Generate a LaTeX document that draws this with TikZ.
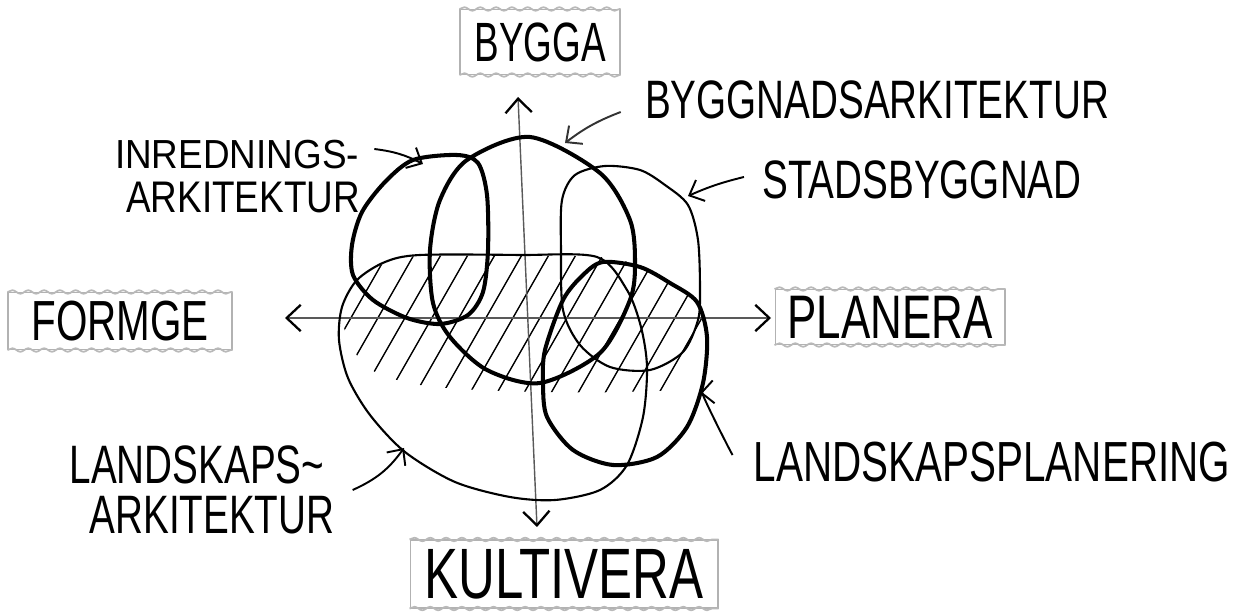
\documentclass[tikz,border=0pt]{standalone}
\usepackage{fontspec}
\usepackage{graphicx}
\setmainfont{Liberation Sans}
\usetikzlibrary{arrows.meta, decorations.pathmorphing}

\newcommand{\tall}[2][1.4]{\scalebox{1}[#1]{#2}}

\begin{document}
\begin{tikzpicture}[x=0.02cm, y=-0.02cm,
    ink/.style={line width=2.3pt, line join=round},
    thinink/.style={line width=1.2pt, line join=round},
    axis/.style={gray!70!black, line width=0.8pt,
        arrows={Straight Barb[length=8pt, width=15pt, line width=1.3pt, black]-Straight Barb[length=8pt, width=15pt, line width=1.3pt, black]}},
    hatch/.style={line width=0.8pt},
    pointer/.style={line width=1.1pt, -{Straight Barb[length=7pt, width=13pt]}},
    box/.style={draw=gray!60, line width=0.6pt, inner sep=0pt},
    wavy/.style={gray!55, line width=1pt, decorate, decoration={snake, amplitude=1pt, segment length=9pt}},
    note/.style={font=\fontsize{22}{24}\selectfont, inner sep=0pt}]
    \useasboundingbox (0,0) rectangle (1248,614);

    % Hatched band
    \begin{scope}
        \clip plot[smooth cycle] coordinates {(342,310) (355,283) (385,263) (420,256) (520,256) (600,257) (645,268) (690,297) (706,330) (700,365) (680,388) (620,392) (550,392) (480,390) (420,385) (375,372) (350,345)};
        \foreach \x in {250,277,...,750}
            \draw[hatch] (\x,400) -- ++(160,-280);
    \end{scope}

    % Axes
    \coordinate (axN) at (518,97);
    \coordinate (axS) at (537,527);
    \coordinate (axW) at (285,318);
    \coordinate (axE) at (771,318);
    \draw[axis] (axW) -- (axE);
    \draw[axis] (axN) -- (axS);

    % Landskapsarkitektur
    \draw[thinink] plot[smooth cycle] coordinates {(420,255) (520,255) (597,257) (627,290) (641,327) (647,367) (643,417) (627,465) (600,490) (555,500) (510,497) (455,482) (405,452) (370,415) (348,378) (339,340) (342,307) (357,280) (385,262)};

    % Stadsbyggnad
    \draw[thinink] plot[smooth cycle] coordinates {(562,200) (575,175) (605,166) (640,170) (665,185) (688,205) (698,240) (700,290) (698,320) (683,352) (650,370) (610,367) (580,345) (563,310) (561,250)};

    % Byggnadsarkitektur
    \draw[ink] plot[smooth cycle] coordinates {(530,137) (600,173) (630,220) (635,263) (630,300) (600,353) (540,383) (487,370) (450,337) (433,303) (430,250) (440,200) (467,160)};

    % Inredningsarkitektur
    \draw[ink] plot[smooth cycle] coordinates {(413,160) (457,155) (478,163) (487,195) (488,250) (483,292) (468,315) (440,324) (407,318) (373,300) (353,275) (352,245) (362,212) (385,182)};

    % Landskapsplanering
    \draw[ink] plot[smooth cycle] coordinates {(603,262) (640,267) (670,283) (697,302) (707,337) (703,383) (687,427) (657,457) (613,465) (573,450) (547,417) (543,383) (545,350) (563,300) (583,275)};

    % Boxes
    \node[box, minimum width=3.2cm, minimum height=1.3cm, font=\fontsize{21}{24}\selectfont] (bygga) at (540,42) {\tall[1.5]{BYGGA}};
    \node[box, minimum width=4.48cm, minimum height=1.14cm, font=\fontsize{23}{26}\selectfont] (formge) at (120,321) {\tall{FORMGE}};
    \node[box, minimum width=4.6cm, minimum height=1.1cm, font=\fontsize{25}{28}\selectfont] (planera) at (890,317) {\tall{PLANERA}};
    \node[box, minimum width=6.16cm, minimum height=1.36cm, font=\fontsize{29}{32}\selectfont] (kultivera) at (564,574) {\tall{KULTIVERA}};
    \foreach \b in {bygga, formge, planera, kultivera} {
        \draw[wavy] (\b.north west) -- (\b.north east);
        \draw[wavy] (\b.south west) -- (\b.south east);
    }

    % Labels
    \node[note] (lbygg) at (877,100) {\tall{BYGGNADSARKITEKTUR}};
    \node[note, font=\fontsize{21}{24}\selectfont] (linred) at (237,155) {\tall[1.1]{INREDNINGS-}};
    \node[note, font=\fontsize{21}{24}\selectfont] (linredb) at (243,197) {\tall[1.2]{ARKITEKTUR}};
    \node[note] (lstad) at (922,180) {\tall{STADSBYGGNAD}};
    \node[note] (llandark) at (197,465) {\tall{LANDSKAPS\textasciitilde}};
    \node[note] (llandarkb) at (212,515) {\tall{ARKITEKTUR}};
    \node[note, font=\fontsize{23}{26}\selectfont] (llandplan) at (992,462) {\tall{LANDSKAPSPLANERING}};

    % Pointer tips
    \coordinate (tbygg) at (565,143);
    \coordinate (tinred) at (423,164);
    \coordinate (tstad) at (688,196);
    \coordinate (tlandark) at (404,448);
    \coordinate (tlandplan) at (700,393);

    % Pointers
    \draw[pointer, gray!40!black] ([shift={(-0.48cm,-0.24cm)}]lbygg.west) to[bend right=8] (tbygg);
    \draw[pointer] ([shift={(0.3cm,0.12cm)}]linred.east) to[bend left=10] (tinred);
    \draw[pointer] ([shift={(-0.36cm,0.06cm)}]lstad.west) to[bend right=5] (tstad);
    \draw[pointer] ([shift={(0.56cm,-0.5cm)}]llandark.east) to[bend right=15] (tlandark);
    \draw[pointer] ([shift={(-0.42cm,0.14cm)}]llandplan.west) .. controls +(0,1.0) and +(0.6,-0.05) .. (tlandplan);
\end{tikzpicture}
\end{document}
